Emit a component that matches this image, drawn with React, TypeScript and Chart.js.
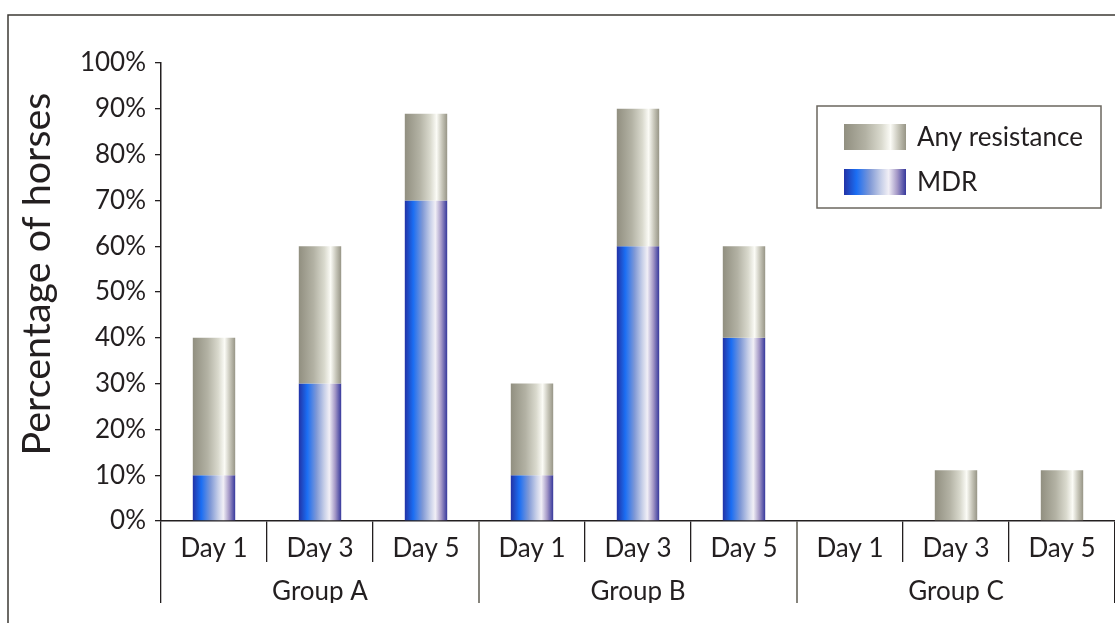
import React, { useEffect, useRef } from "react";
import { Chart, registerables } from "chart.js";

Chart.register(...registerables);

// ---- data ----
const dayLabels = ["Day 1", "Day 3", "Day 5", "Day 1", "Day 3", "Day 5", "Day 1", "Day 3", "Day 5"];
const groupLabels = ["Group A", "Group B", "Group C"];
const anyResistance = [40, 60, 88.9, 30, 90, 60, 0, 11.1, 11.1];
const mdr = [10, 30, 70, 10, 60, 40, 0, 0, 0];
const seriesNames = ["Any resistance", "MDR"];
const yTitle = "Percentage of horses";

// ---- style ----
const FONT = "Lato";
const TEXT = "#231f20";
const GROUP_SEP = "#86847c";
const BAR_PCT = 0.4;
const grayStops: [number, string][] = [
  [0, "#918f80"],
  [0.35, "#b3b2a4"],
  [0.6, "#d9d9cd"],
  [0.75, "#fbfbf6"],
  [0.88, "#c6c5b8"],
  [1, "#979586"],
];
const blueStops: [number, string][] = [
  [0, "#2232a6"],
  [0.2, "#1b6ef3"],
  [0.42, "#8099d6"],
  [0.6, "#c7cfe8"],
  [0.72, "#f1eff6"],
  [0.86, "#a397c6"],
  [1, "#36389c"],
];

function makeGradient(c: CanvasRenderingContext2D, x0: number, x1: number, stops: [number, string][]) {
  const g = c.createLinearGradient(x0, 0, x1, 0);
  stops.forEach(([o, col]) => g.addColorStop(o, col));
  return g;
}

function barGradient(ctx: any, stops: [number, string][], fallback: string) {
  const chart = ctx.chart;
  const xs = chart.scales && chart.scales.x;
  if (ctx.type !== "data" || !xs || !chart.chartArea) return fallback;
  const c = xs.getPixelForValue(ctx.dataIndex);
  const w = (xs.width / dayLabels.length) * BAR_PCT;
  return makeGradient(chart.ctx, c - w / 2, c + w / 2, stops);
}

const decorPlugin = {
  id: "decor",
  beforeDraw(chart: any) {
    const c: CanvasRenderingContext2D = chart.ctx;
    c.save();
    c.strokeStyle = "#3d3a35";
    c.lineWidth = 1.5;
    c.beginPath();
    c.moveTo(8, chart.height);
    c.lineTo(8, 15);
    c.lineTo(chart.width, 15);
    c.stroke();
    c.restore();
  },
  afterDraw(chart: any) {
    const c: CanvasRenderingContext2D = chart.ctx;
    const area = chart.chartArea;
    // y title
    c.save();
    c.translate(37.6, 274);
    c.rotate(-Math.PI / 2);
    c.font = `39.5px ${FONT}`;
    c.fillStyle = TEXT;
    c.textAlign = "center";
    c.textBaseline = "middle";
    c.fillText(yTitle, 0, 0);
    c.restore();

    // legend
    const bx = area.right - 298;
    const by = area.top + 43;
    const bw = 284;
    const bh = 102;
    c.save();
    c.strokeStyle = "#6b675f";
    c.lineWidth = 1.5;
    c.strokeRect(bx, by, bw, bh);
    const items = [
      { label: chart.data.datasets[0].label, stops: grayStops, y: by + 18 },
      { label: chart.data.datasets[1].label, stops: blueStops, y: by + 63 },
    ];
    c.font = `26px ${FONT}`;
    c.textBaseline = "middle";
    c.textAlign = "left";
    items.forEach((it) => {
      const sx = bx + 27;
      c.fillStyle = makeGradient(c, sx, sx + 62, it.stops);
      c.fillRect(sx, it.y, 62, 26);
      c.fillStyle = TEXT;
      c.fillText(it.label, bx + 100, it.y + 14);
    });
    c.restore();
  },
};

export default function App() {
  const ref = useRef<HTMLCanvasElement>(null);
  useEffect(() => {
    if (!ref.current) return;
    const tickFont = { family: FONT, size: 26 };
    const chart = new Chart(ref.current, {
      type: "bar",
      data: {
        labels: dayLabels,
        datasets: [
          {
            label: seriesNames[0],
            data: anyResistance.map((v, i) => [mdr[i], v]) as any,
            backgroundColor: (ctx: any) => barGradient(ctx, grayStops, "#c0bfb2"),
            grouped: false,
            categoryPercentage: 1,
            barPercentage: BAR_PCT,
            borderWidth: 0,
            xAxisID: "x",
          } as any,
          {
            label: seriesNames[1],
            data: mdr.map((v) => [0, v]) as any,
            backgroundColor: (ctx: any) => barGradient(ctx, blueStops, "#6f86d8"),
            grouped: false,
            categoryPercentage: 1,
            barPercentage: BAR_PCT,
            borderWidth: 0,
            xAxisID: "x",
          } as any,
        ],
      },
      options: {
        animation: false,
        responsive: true,
        maintainAspectRatio: false,
        devicePixelRatio: 1,
        layout: { padding: { left: 0, top: 63, right: 0, bottom: 20 } },
        plugins: { legend: { display: false }, tooltip: { enabled: false } },
        scales: {
          x: {
            type: "category",
            position: "bottom",
            offset: true,
            grid: {
              display: true,
              drawOnChartArea: false,
              drawTicks: true,
              tickLength: 41,
              offset: true,
              color: (ctx: any) => (ctx.index % 3 === 0 && ctx.index > 0 ? GROUP_SEP : TEXT),
              lineWidth: (ctx: any) => (ctx.index % 3 === 0 && ctx.index > 0 ? 2 : 1.3),
            },
            border: { display: true, color: TEXT, width: 1.5 },
            ticks: { font: tickFont, color: TEXT, padding: -29, maxRotation: 0, autoSkip: false },
            afterFit: (s: any) => {
              s.height = 41;
            },
          },
          x2: {
            type: "category",
            position: "bottom",
            labels: groupLabels,
            offset: true,
            grid: {
              display: true,
              drawOnChartArea: false,
              drawTicks: true,
              tickLength: 41,
              offset: true,
              color: (ctx: any) => (ctx.index > 0 ? GROUP_SEP : TEXT),
              lineWidth: (ctx: any) => (ctx.index > 0 ? 2 : 1.3),
            },
            border: { display: false },
            ticks: { font: tickFont, color: TEXT, padding: -27, maxRotation: 0, autoSkip: false },
            afterFit: (s: any) => {
              s.height = 41;
            },
          },
          y: {
            min: 0,
            max: 100,
            ticks: {
              stepSize: 10,
              callback: (v: any) => `${v}%`,
              font: tickFont,
              color: TEXT,
              padding: 9,
            },
            grid: { drawOnChartArea: false, tickLength: 6, color: TEXT, lineWidth: 1.3 },
            border: { display: true, color: TEXT, width: 1.5 },
            afterFit: (s: any) => {
              s.width = 161;
            },
          },
        } as any,
      },
      plugins: [decorPlugin],
    });
    return () => chart.destroy();
  }, []);

  return (
    <div style={{ position: "fixed", left: 0, top: 0, width: 1115, height: 623, background: "#ffffff" }}>
      <canvas ref={ref} />
    </div>
  );
}
